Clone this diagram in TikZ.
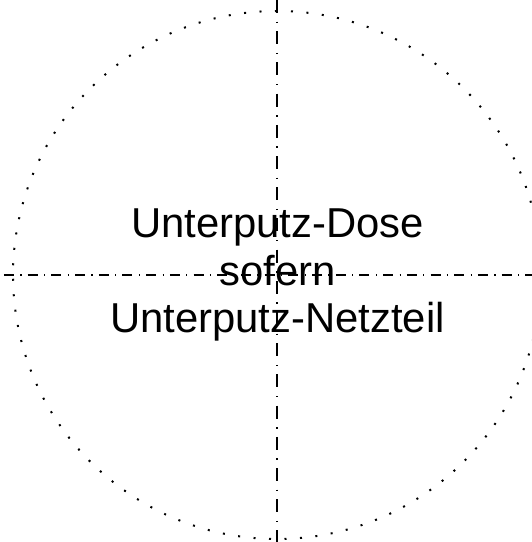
\documentclass[tikz,border=0pt]{standalone}
\usepackage{fontspec}
\setmainfont{Liberation Sans}

\begin{document}
\begin{tikzpicture}[
        x=1pt, y=1pt,
        outline/.style={line width=2pt, dash pattern=on 2pt off 13.5pt},
        hcross/.style={line width=1.8pt, dash pattern=on 10pt off 6.4pt on 1.2pt off 6.1pt},
        vcross/.style={line width=1.8pt, dash pattern=on 13pt off 8.6pt on 1.4pt off 8.2pt},
        dosetext/.style={align=center, inner sep=0pt, font=\fontsize{41.8}{47.5}\selectfont}
    ]
        \useasboundingbox (-277,-267) rectangle (255,275);

        % Dotted outline
        \draw[outline] (0,264) arc[start angle=90, end angle=450, radius=264];

        % Text
        \node[dosetext] (dose) at (0.5,0) {Unterputz-Dose\\sofern\\Unterputz-Netzteil};

        % Centre lines
        \coordinate (top) at (0,275);
        \coordinate (bottom) at (0,-267);
        \coordinate (left) at (-273,0);
        \coordinate (right) at (255,0);
        \draw[vcross] (top) -- (bottom);
        \draw[hcross] (left) -- (right);

    \end{tikzpicture}
\end{document}
